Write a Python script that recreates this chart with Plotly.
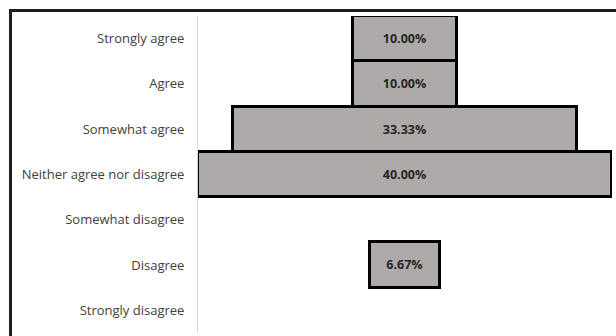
import plotly.graph_objects as go

# Survey responses, top to bottom
categories = [
    "Strongly agree",
    "Agree",
    "Somewhat agree",
    "Neither agree nor disagree",
    "Somewhat disagree",
    "Disagree",
    "Strongly disagree",
]
shares = [10.00, 10.00, 33.33, 40.00, 0.00, 6.67, 0.00]

labels = [f"{v:.2f}%" if v > 0 else "" for v in shares]
bases = [-v / 2 for v in shares]
# empty categories get no outline at all
outline = [3 if v > 0 else 0 for v in shares]

W, H = 616, 336
ML, MR, MT, MB = 198, 4, 16, 3
pw = W - ML - MR
ph = H - MT - MB

fig = go.Figure(
    go.Bar(
        y=categories,
        x=shares,
        base=bases,
        orientation="h",
        text=labels,
        textposition="inside",
        insidetextanchor="middle",
        textangle=0,
        textfont=dict(family="Open Sans", size=12.5, color="#262626", weight="bold"),
        marker=dict(color="#AEAAAA", line=dict(color="#000000", width=outline)),
        cliponaxis=False,
        hoverinfo="skip",
    )
)

half = max(shares) / 2
fig.update_layout(
    width=W,
    height=H,
    margin=dict(l=ML, r=MR, t=MT, b=MB),
    paper_bgcolor="white",
    plot_bgcolor="white",
    showlegend=False,
    bargap=0,
    uniformtext=dict(mode="show", minsize=11),
    xaxis=dict(
        range=[-half, half],
        visible=False,
        fixedrange=True,
    ),
    yaxis=dict(
        categoryorder="array",
        categoryarray=categories,
        autorange="reversed",
        showline=True,
        linecolor="#D9D9D9",
        linewidth=1,
        showgrid=False,
        ticks="",
        ticklabelstandoff=10,
        tickfont=dict(family="Open Sans", size=13, color="#404040"),
        fixedrange=True,
    ),
    shapes=[
        # chart frame: left and top edges
        dict(type="line", xref="paper", yref="paper",
             x0=(10.5 - ML) / pw, x1=(10.5 - ML) / pw,
             y0=1 + (MT - 10) / ph, y1=-(MB + 5) / ph,
             line=dict(color="#1f1f1f", width=3)),
        dict(type="line", xref="paper", yref="paper",
             x0=(9 - ML) / pw, x1=1 + (MR + 5) / pw,
             y0=1 + (MT - 10.5) / ph, y1=1 + (MT - 10.5) / ph,
             line=dict(color="#1f1f1f", width=3)),
    ],
)

fig.write_html("out.html")
